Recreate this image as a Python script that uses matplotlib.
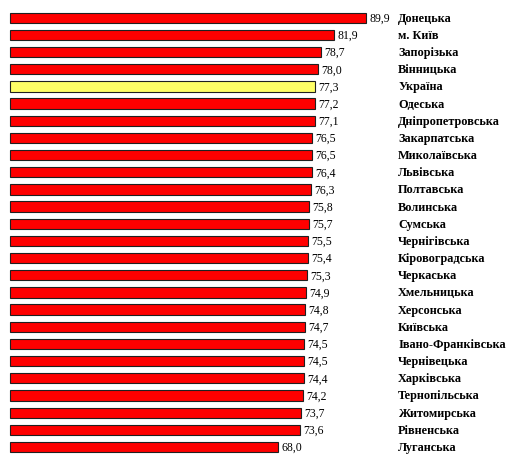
import matplotlib.pyplot as plt

regions = ['Донецька', 'м. Київ', 'Запорізька', 'Вінницька', 'Україна', 'Одеська',
           'Дніпропетровська', 'Закарпатська', 'Миколаївська', 'Львівська', 'Полтавська',
           'Волинська', 'Сумська', 'Чернігівська', 'Кіровоградська', 'Черкаська',
           'Хмельницька', 'Херсонська', 'Київська', 'Івано-Франківська', 'Чернівецька',
           'Харківська', 'Тернопільська', 'Житомирська', 'Рівненська', 'Луганська']
values = [89.9, 81.9, 78.7, 78.0, 77.3, 77.2, 77.1, 76.5, 76.5, 76.4, 76.3, 75.8, 75.7,
          75.5, 75.4, 75.3, 74.9, 74.8, 74.7, 74.5, 74.5, 74.4, 74.2, 73.7, 73.6, 68.0]

plt.rcParams['font.family'] = ['Liberation Serif', 'DejaVu Serif']
fig = plt.figure(figsize=(5.18, 4.64), dpi=100)
ax = fig.add_axes([0.0, 0.016, 1.0, 0.962])

start = 1.35
colors = ['#ffff66' if r == 'Україна' else '#ff0000' for r in regions]
y = range(len(regions))
ax.barh(y, [v - start for v in values], left=start, height=0.6, color=colors,
        edgecolor='#202020', linewidth=0.8)
for i, (r, v) in enumerate(zip(regions, values)):
    ax.text(v + 0.8, i, f'{v:.1f}'.replace('.', ','), va='center', ha='left', fontsize=8.5)
    ax.text(97.9, i, r, va='center', ha='left', fontsize=8.8, fontweight='bold')

ax.set_xlim(-1.14, 127.7)
ax.set_ylim(25.5, -0.5)
ax.axis('off')
fig.savefig('out.png', dpi=100)
